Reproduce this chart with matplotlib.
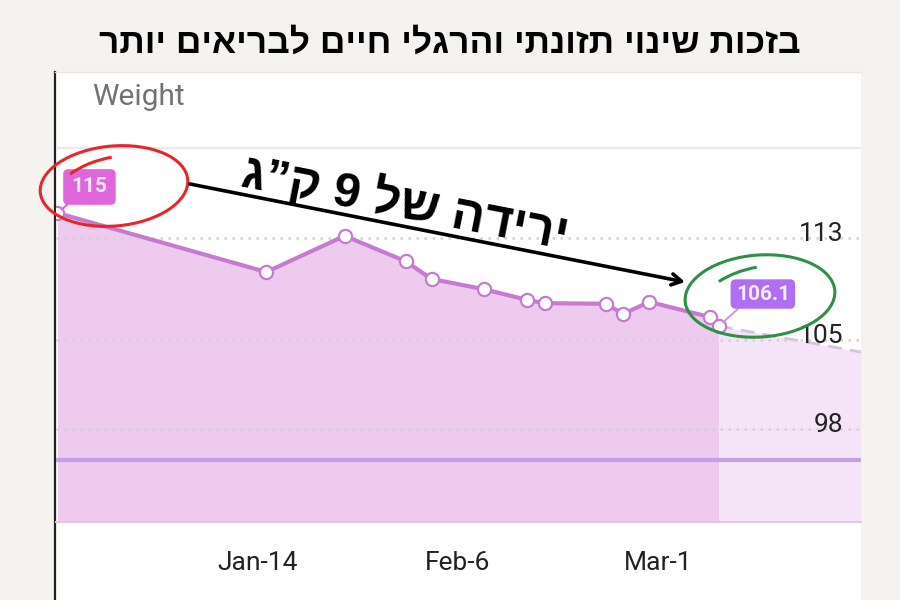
import matplotlib

matplotlib.use("Agg")

import matplotlib.dates as mdates
import matplotlib.pyplot as plt
import pandas as pd
from matplotlib.patches import Arc, Ellipse

TITLE = "בזכות שינוי תזונתי והרגלי חיים לבריאים יותר"
CALLOUT = "ירידה של 9 ק”ג"

# weigh-ins
dates = ["2022-12-22", "2023-01-15", "2023-01-24", "2023-01-31", "2023-02-03",
         "2023-02-09", "2023-02-14", "2023-02-16", "2023-02-23", "2023-02-25",
         "2023-02-28", "2023-03-07", "2023-03-08"]
weights = [115.0, 110.35, 113.2, 111.2, 109.8, 109.0, 108.15, 107.9, 107.85,
           107.05, 108.0, 106.8, 106.1]

# projected trend after last weigh-in
forecast_dates = ["2023-03-08 00:00", "2023-03-24 08:00"]
forecast_weights = [106.1, 104.05]

goal_weight = 95.55
ytick_values = [113, 105, 98]
ytick_labels = ["113", "105", "98"]
xtick_dates = ["2023-01-14", "2023-02-06", "2023-03-01"]
xtick_labels = ["Jan-14", "Feb-6", "Mar-1"]
x_start = "2022-12-21 20:00"
y_floor = 90.67
y_top = 126.1
top_grid = 120.1

LINE = "#c57ccf"
FILL = "#eecbee"
FILL_LIGHT = "#f5e4f7"
GOAL = "#c49ee9"
BG = "#f4f3ef"

x = mdates.date2num(pd.to_datetime(dates))
fx = mdates.date2num(pd.to_datetime(forecast_dates, format="ISO8601"))

fig = plt.figure(figsize=(9, 6), dpi=100, facecolor=BG)

# white card behind the chart
panel = fig.add_axes([55 / 900, 0, 806 / 900, 528 / 600])
panel.set_facecolor("white")
panel.set_xticks([])
panel.set_yticks([])
for side in ["right", "bottom"]:
    panel.spines[side].set_visible(False)
panel.spines["left"].set_color("#222222")
panel.spines["left"].set_linewidth(1.6)
panel.spines["top"].set_color("#ebe6eb")
panel.spines["top"].set_linewidth(1.0)

ax = fig.add_axes([56 / 900, 78 / 600, 805 / 900, 450 / 600])
ax.set_facecolor("none")
ax.set_xlim(mdates.date2num(pd.Timestamp(x_start)), fx[-1])
ax.set_ylim(y_floor, y_top)

ax.fill_between(x, weights, y_floor, color=FILL, lw=0, zorder=1)
ax.fill_between(fx, forecast_weights, y_floor, color=FILL_LIGHT, lw=0, zorder=1)
ax.plot(fx, forecast_weights, color="#d9c2dd", lw=2, ls=(0, (5, 3)), zorder=2)

ax.axhline(top_grid, color="#efe7f0", lw=1.6, zorder=2)
for v, lbl in zip(ytick_values, ytick_labels):
    ax.axhline(v, color="#d2d2d2", lw=1.8, ls=(0, (1, 2.2)), zorder=2)
    ax.annotate(lbl, xy=(1, v), xycoords=("axes fraction", "data"),
                xytext=(-18, 4), textcoords="offset pixels", ha="right",
                va="center", fontsize=19, color="#222222", family="Roboto")
ax.axhline(goal_weight, color=GOAL, lw=3, zorder=3)

ax.plot(x, weights, color=LINE, lw=3, marker="o", markersize=9.5,
        markerfacecolor="white", markeredgecolor=LINE, markeredgewidth=1.6,
        zorder=4)

ax.set_xticks(mdates.date2num(pd.to_datetime(xtick_dates)))
ax.set_xticklabels(xtick_labels, fontsize=19, color="#222222", family="Roboto")
ax.tick_params(axis="x", length=0, pad=21)
ax.set_yticks([])
for side in ["left", "right", "top"]:
    ax.spines[side].set_visible(False)
ax.spines["bottom"].set_color("#e2c6e4")
ax.spines["bottom"].set_linewidth(1.5)

# value bubbles on first and last weigh-in
ax.annotate("115", xy=(x[0], weights[0]), xytext=(32, 26),
            textcoords="offset pixels", ha="center", va="center",
            fontsize=15, fontweight="bold", color="#fbe9fb", family="Roboto",
            bbox=dict(boxstyle="round,pad=0.4,rounding_size=0.25",
                      fc="#e066dc", ec="none"),
            arrowprops=dict(arrowstyle="-", color="#e066dc", lw=1.5,
                            shrinkA=0, shrinkB=4, relpos=(0.15, 0)),
            zorder=6)
ax.annotate("106.1", xy=(x[-1], weights[-1]), xytext=(44, 32),
            textcoords="offset pixels", ha="center", va="center",
            fontsize=15, fontweight="bold", color="#f6ecff", family="Roboto",
            bbox=dict(boxstyle="round,pad=0.25,rounding_size=0.25",
                      fc="#b06ef3", ec="none"),
            arrowprops=dict(arrowstyle="-", color="#c49ee9", lw=1.5,
                            shrinkA=0, shrinkB=4, relpos=(0.15, 0)),
            zorder=6)

fig.text(92 / 900, 1 - 97 / 600, "Weight", fontsize=21.5, color="#737373",
         family="Roboto", va="center", ha="left")

fig.text(0.5, 1 - 43 / 600, TITLE[::-1], fontsize=25.5, fontweight="bold",
         color="black", ha="center", va="center",
         family=["Liberation Sans Narrow", "Liberation Sans", "DejaVu Sans"])

# hand-drawn markup layer, in pixel units
over = fig.add_axes([0, 0, 1, 1])
over.set_xlim(0, 900)
over.set_ylim(600, 0)
over.axis("off")
over.set_facecolor("none")

over.add_patch(Ellipse((114, 186), 148, 80, angle=-5, fill=False,
                       ec="#e8262a", lw=2.2))
over.add_patch(Arc((122, 193), 136, 74, angle=-8, theta1=208, theta2=262,
                   color="#e8262a", lw=2.2))
over.add_patch(Ellipse((760, 296), 150, 82, angle=-4, fill=False,
                       ec="#2f8f47", lw=2.2))
over.add_patch(Arc((767, 303), 136, 74, angle=-8, theta1=212, theta2=262,
                   color="#2f8f47", lw=2.2))

over.annotate("", xy=(685, 282), xytext=(190, 184),
              arrowprops=dict(arrowstyle="->,head_length=0.7,head_width=0.4",
                              color="black", lw=2.6, shrinkA=0, shrinkB=0))
over.text(405, 203, CALLOUT[::-1], rotation=-11, rotation_mode="anchor",
          ha="center", va="center", fontsize=35, fontweight="bold",
          color="black", family=["Liberation Sans", "DejaVu Sans"])

fig.savefig("out.png", dpi=100, facecolor=BG)
